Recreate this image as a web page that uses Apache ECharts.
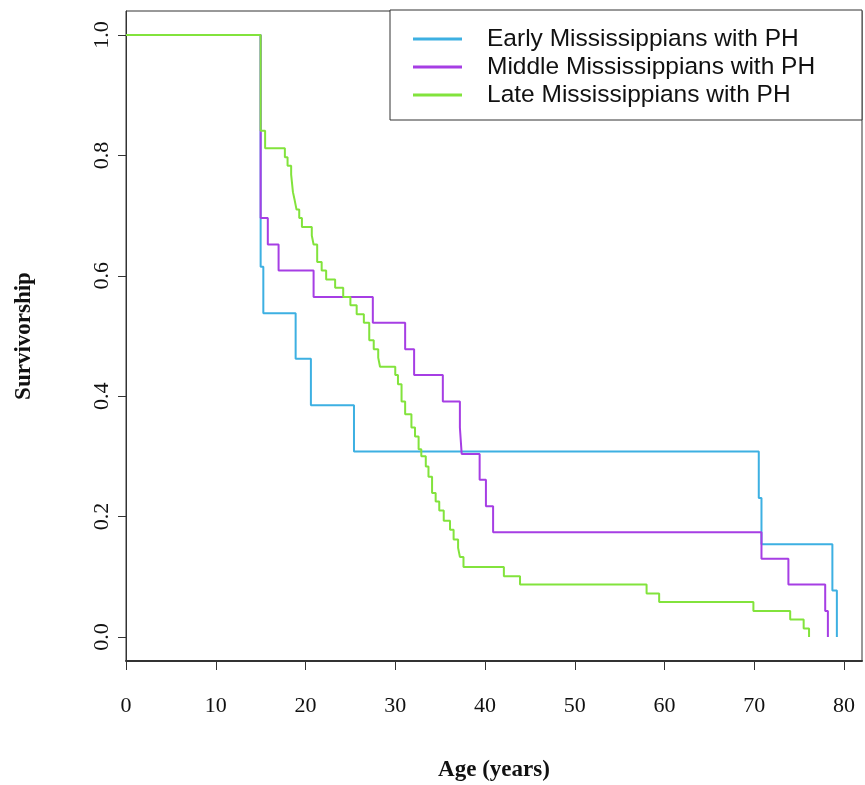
<!DOCTYPE html>
<html><head><meta charset="utf-8">
<script src="https://cdn.jsdelivr.net/npm/echarts@6/dist/echarts.min.js"></script>
<style>html,body{margin:0;padding:0;background:#fff}#c{width:865px;height:785px}</style>
</head><body><div id="c"></div>
<script>
// ---- data (Kaplan-Meier style survivorship, age at drop -> survivorship after drop)
const seriesNames = ["Early Mississippians with PH", "Middle Mississippians with PH", "Late Mississippians with PH"];
const seriesColors = ["#3db0e2", "#a63ee4", "#82e33c"];

const earlyAge  = [0, 15.0, 15.3, 18.9, 20.6, 25.4, 70.5, 70.8, 78.7, 79.2];
const earlySurv = [1.0, 0.615, 0.538, 0.462, 0.385, 0.308, 0.231, 0.154, 0.077, 0.0];

const middleAge  = [0, 15.0, 15.8, 17.0, 20.9, 27.5, 31.1, 32.1, 35.3, 37.2, 37.4, 39.4, 40.1, 40.9, 70.8, 73.8, 77.9, 78.2];
const middleSurv = [1.0, 0.696, 0.652, 0.609, 0.565, 0.522, 0.478, 0.435, 0.391, 0.348, 0.304, 0.261, 0.217, 0.174, 0.130, 0.087, 0.043, 0.0];

const lateAge  = [0, 15.0, 15.5, 17.7, 18.0, 18.4, 18.6, 18.8, 19.0, 19.3, 19.6, 20.7, 20.9, 21.3, 21.8, 22.3, 23.3, 24.2, 25.0, 25.7, 26.5, 27.1, 27.6, 28.1, 28.3, 30.0, 30.3, 30.7, 31.1, 31.8, 32.2, 32.6, 32.9, 33.4, 33.7, 34.1, 34.5, 34.9, 35.4, 36.1, 36.5, 37.0, 37.2, 37.6, 42.1, 43.9, 58.0, 59.4, 69.9, 74.0, 75.5, 76.1];
const lateSurv = [1.0, 0.841, 0.812, 0.797, 0.783, 0.768, 0.739, 0.725, 0.710, 0.696, 0.681, 0.667, 0.652, 0.623, 0.609, 0.594, 0.580, 0.565, 0.551, 0.536, 0.522, 0.493, 0.478, 0.464, 0.449, 0.435, 0.420, 0.391, 0.370, 0.348, 0.333, 0.312, 0.300, 0.283, 0.266, 0.239, 0.225, 0.210, 0.193, 0.178, 0.162, 0.148, 0.133, 0.116, 0.101, 0.087, 0.072, 0.058, 0.043, 0.029, 0.014, 0.0];

const xTicks = [0, 10, 20, 30, 40, 50, 60, 70, 80];
const yTicks = [0, 0.2, 0.4, 0.6, 0.8, 1.0];

const xTitle = "Age (years)";
const yTitle = "Survivorship";

// ---- build
const ages = [earlyAge, middleAge, lateAge];
const survs = [earlySurv, middleSurv, lateSurv];
const serif = "'Liberation Serif', 'Times New Roman', serif";
const sans = "'Liberation Sans', Arial, sans-serif";

const chart = echarts.init(document.getElementById('c'), null, {renderer: 'canvas'});
chart.setOption({
  animation: false,
  backgroundColor: '#fff',
  grid: {left: 126, top: 11, width: 736, height: 650, containLabel: false, outerBoundsMode: 'none',
    show: true, borderColor: '#333', borderWidth: 1, backgroundColor: 'transparent'},
  xAxis: {
    type: 'value', min: 0, max: 82,
    name: xTitle, nameLocation: 'middle', nameGap: 98,
    nameTextStyle: {fontFamily: serif, fontWeight: 'bold', fontSize: 23, color: '#111'},
    axisLine: {show: true, onZero: false, lineStyle: {color: '#333', width: 2}},
    axisTick: {show: true, inside: false, length: 9, customValues: xTicks, lineStyle: {color: '#333'}},
    axisLabel: {customValues: xTicks, margin: 34, fontFamily: serif, fontSize: 22, color: '#111'},
    splitLine: {show: false}
  },
  yAxis: {
    type: 'value', min: -0.04, max: 1.04,
    name: yTitle, nameLocation: 'middle', nameGap: 90, nameRotate: 90,
    nameTextStyle: {fontFamily: serif, fontWeight: 'bold', fontSize: 23, color: '#111'},
    axisLine: {show: true, onZero: false, lineStyle: {color: '#333', width: 1}},
    axisTick: {show: true, inside: false, length: 8, customValues: yTicks, lineStyle: {color: '#333'}},
    axisLabel: {customValues: yTicks, rotate: 90, margin: 13, fontFamily: serif, fontSize: 22, color: '#111',
      formatter: v => v.toFixed(1)},
    splitLine: {show: false}
  },
  legend: {
    show: true, orient: 'vertical', left: 390, top: 10,
    data: seriesNames,
    icon: 'rect', itemWidth: 49, itemHeight: 3, itemGap: 0,
    padding: [15, 0, 11, 23],
    borderColor: '#333', borderWidth: 1, backgroundColor: '#fff',
    textStyle: {fontFamily: sans, fontSize: 24.5, color: '#111', lineHeight: 28, padding: [0, 0, 0, 20], width: 375},
    selectedMode: false
  },
  series: seriesNames.map((name, k) => ({
    name: name, type: 'line', step: 'end', showSymbol: false, symbol: 'none',
    data: ages[k].map((a, i) => [a, survs[k][i]]),
    lineStyle: {color: seriesColors[k], width: 2},
    itemStyle: {color: seriesColors[k]},
    z: 2 + k
  }))
});
</script>
</body></html>
